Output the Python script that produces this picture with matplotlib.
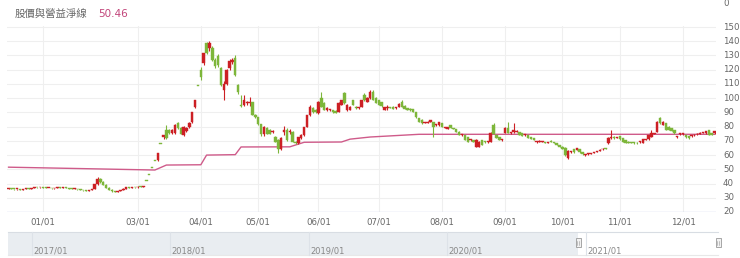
import matplotlib
matplotlib.use("Agg")
import matplotlib.pyplot as plt
import numpy as np
import pandas as pd

plt.rcParams['font.family'] = ['Noto Sans CJK TC', 'DejaVu Sans']

# ---------------- data ----------------
title_text = "股價與營益淨線"
title_value = "50.46"

start_date = "2020-12-16"
end_date = "2021-12-16"
holidays = ["2021-01-01", "2021-02-08", "2021-02-09", "2021-02-10", "2021-02-11",
            "2021-02-12", "2021-02-15", "2021-02-16", "2021-03-01", "2021-04-02",
            "2021-04-05", "2021-06-14", "2021-09-20", "2021-09-21", "2021-10-11"]

opens = [36.2, 36.5, 36.3, 36.0, 36.2, 35.8, 36.0, 36.6, 36.4, 37.0, 37.5, 37.3,
         37.6, 37.2, 36.8, 37.0, 36.6, 36.9, 37.3, 37.1, 37.4, 36.9, 36.5, 36.2,
         36.4, 35.9, 35.6, 35.2, 34.8, 35.3, 36.5, 39.5, 43.4, 41.0, 39.0, 37.0,
         35.8, 34.5, 34.2, 34.8, 35.6, 36.5, 37.6, 37.2, 37.5, 37.3, 37.8, 37.6,
         42.0, 46.2, 50.8, 55.9, 56.5, 67.6, 72.5, 77.6, 77.6, 75.5, 75.5, 82.5,
         79.0, 74.0, 77.0, 79.7, 83.0, 93.5, 108.9, 119.8, 124.5, 138.5, 135.0, 135.5,
         127.0, 129.5, 121.0, 106.0, 110.0, 121.0, 125.5, 128.5, 109.0, 95.0, 95.0, 96.3,
         96.5, 97.0, 88.5, 86.5, 81.5, 74.5, 79.0, 77.5, 76.0, 72.5, 70.5, 64.5,
         76.5, 77.5, 76.0, 76.5, 69.5, 68.5, 72.0, 74.0, 80.0, 88.0, 93.0, 92.0,
         89.5, 100.0, 96.5, 91.8, 91.5, 91.7, 91.0, 90.3, 95.5, 103.6, 91.7, 92.0,
         98.7, 93.8, 93.0, 93.8, 102.0, 97.5, 100.0, 104.0, 100.0, 98.5, 97.0, 91.8,
         93.0, 93.5, 94.0, 93.0, 93.8, 97.0, 94.5, 93.0, 92.4, 92.2, 90.3, 86.0,
         85.0, 82.5, 82.8, 83.2, 83.2, 81.0, 81.0, 82.5, 79.0, 78.3, 81.1, 79.0,
         78.3, 76.5, 74.0, 74.1, 72.7, 70.5, 70.6, 65.7, 65.7, 70.6, 69.5, 69.0,
         69.2, 81.0, 74.1, 72.7, 70.4, 75.5, 79.0, 75.3, 76.0, 76.2, 76.2, 75.5,
         74.0, 74.1, 72.7, 72.0, 69.0, 69.2, 69.2, 69.2, 68.8, 70.0, 69.2, 68.5,
         67.1, 66.0, 65.0, 58.0, 62.0, 64.0, 63.6, 64.0, 62.0, 60.0, 60.6, 61.0,
         61.6, 62.4, 63.2, 64.0, 64.8, 68.5, 72.0, 73.0, 72.0, 73.4, 71.8, 70.6,
         69.4, 69.1, 68.8, 68.6, 69.0, 68.7, 70.8, 71.0, 72.9, 75.0, 76.4, 85.8,
         81.1, 82.3, 80.0, 78.8, 77.6, 72.6, 74.5, 74.7, 74.1, 73.4, 73.2, 73.8,
         74.5, 74.8, 75.6, 75.3, 77.6, 75.3, 75.3]
highs = [36.7, 36.7, 36.5, 36.4, 36.3, 36.2, 36.8, 36.9, 37.2, 37.8, 37.7, 37.9,
         37.8, 37.4, 37.2, 37.1, 37.0, 37.5, 37.5, 37.6, 37.5, 37.0, 36.7, 36.6,
         36.5, 36.0, 35.8, 35.4, 35.5, 36.1, 40.0, 44.5, 44.0, 41.5, 39.4, 37.3,
         36.0, 34.8, 35.0, 35.8, 36.7, 37.8, 37.9, 37.7, 37.6, 38.0, 38.0, 38.4,
         42.0, 46.2, 50.8, 55.9, 61.5, 67.6, 74.3, 81.0, 78.0, 78.0, 82.0, 83.5,
         79.5, 80.5, 79.5, 83.0, 90.2, 99.0, 108.9, 122.0, 131.7, 139.5, 140.0, 137.0,
         128.0, 131.0, 122.0, 112.0, 120.5, 127.5, 128.0, 130.3, 110.0, 102.0, 102.0, 98.0,
         101.0, 97.5, 89.0, 87.0, 82.0, 80.5, 79.5, 78.0, 77.5, 73.5, 71.0, 72.5,
         80.5, 79.0, 78.0, 77.0, 70.0, 73.0, 74.5, 80.0, 88.5, 95.0, 94.0, 92.5,
         98.0, 104.5, 97.0, 93.5, 92.5, 92.0, 91.5, 97.0, 99.0, 104.3, 95.8, 94.5,
         99.0, 94.2, 94.0, 99.0, 103.5, 100.5, 105.5, 105.7, 100.5, 99.0, 97.5, 94.0,
         95.5, 94.0, 94.3, 93.6, 96.5, 98.5, 95.0, 93.3, 92.8, 92.5, 90.6, 86.3,
         85.3, 83.6, 83.7, 85.0, 83.5, 81.8, 83.5, 82.8, 79.8, 80.0, 81.4, 79.3,
         78.6, 76.8, 74.8, 74.4, 73.0, 71.4, 70.9, 71.0, 69.6, 70.9, 69.8, 69.9,
         76.0, 82.5, 74.4, 73.0, 71.2, 79.5, 83.0, 76.2, 82.5, 77.6, 76.5, 75.8,
         74.8, 74.4, 73.0, 72.3, 69.8, 70.3, 69.8, 69.5, 69.3, 70.3, 69.5, 68.8,
         67.4, 66.3, 65.5, 63.6, 62.8, 64.3, 65.3, 64.3, 62.3, 60.7, 61.2, 61.8,
         62.5, 63.2, 64.1, 64.8, 65.1, 72.5, 77.6, 73.3, 72.7, 73.7, 72.1, 70.9,
         69.7, 69.4, 69.1, 68.9, 69.8, 71.3, 71.6, 74.4, 77.6, 75.7, 84.0, 87.0,
         83.8, 82.6, 80.3, 79.1, 77.9, 73.5, 75.6, 75.5, 74.4, 73.7, 73.9, 74.5,
         75.2, 76.0, 76.1, 77.2, 77.9, 75.6, 77.0]
lows = [36.0, 36.1, 35.8, 35.8, 35.6, 35.6, 35.9, 36.2, 36.3, 36.9, 37.0, 37.1,
        37.0, 36.6, 36.6, 36.4, 36.5, 36.8, 36.9, 37.0, 36.8, 36.4, 36.0, 36.1,
        35.8, 35.4, 35.0, 34.6, 34.7, 35.2, 36.3, 39.2, 40.6, 38.9, 36.8, 35.6,
        34.3, 33.8, 34.0, 34.6, 35.4, 36.3, 37.0, 37.0, 37.0, 37.1, 37.3, 37.4,
        42.0, 46.2, 50.8, 55.9, 56.0, 67.6, 71.5, 71.5, 75.0, 75.0, 75.0, 78.5,
        74.5, 73.5, 76.5, 79.0, 82.5, 93.0, 108.9, 113.0, 123.0, 131.0, 133.5, 126.0,
        121.5, 122.0, 108.5, 98.7, 109.0, 120.0, 124.0, 115.5, 103.0, 94.0, 94.5, 95.5,
        94.5, 88.0, 86.0, 81.0, 73.5, 73.5, 74.5, 74.5, 75.5, 69.0, 61.5, 63.5,
        74.0, 70.0, 75.0, 69.0, 68.0, 68.0, 71.5, 73.5, 79.5, 87.5, 89.5, 89.5,
        89.0, 93.5, 91.5, 91.0, 91.0, 89.5, 89.5, 90.0, 95.0, 96.0, 91.0, 91.5,
        95.0, 92.5, 92.5, 93.5, 98.0, 97.0, 99.5, 98.5, 96.5, 95.0, 94.0, 91.5,
        92.0, 92.8, 92.2, 92.5, 93.5, 93.5, 92.2, 91.7, 91.2, 90.0, 86.2, 83.0,
        82.0, 82.2, 82.5, 83.0, 72.7, 80.5, 80.7, 79.4, 78.7, 78.0, 78.7, 78.0,
        75.9, 73.8, 73.7, 70.3, 69.2, 70.2, 68.9, 65.4, 65.4, 66.8, 68.7, 68.7,
        69.0, 74.5, 71.7, 70.5, 70.1, 75.2, 75.2, 75.0, 75.7, 75.9, 73.8, 73.2,
        73.7, 71.7, 71.0, 70.3, 68.7, 68.9, 68.9, 68.2, 68.5, 68.9, 68.2, 66.8,
        65.4, 64.2, 59.5, 57.2, 61.7, 61.7, 63.3, 61.7, 60.2, 59.7, 60.3, 60.7,
        61.3, 62.1, 62.9, 63.7, 64.0, 68.0, 71.5, 71.5, 71.7, 70.7, 69.1, 68.4,
        68.5, 68.5, 68.1, 67.9, 68.7, 68.4, 70.5, 70.7, 72.6, 74.5, 76.0, 82.0,
        80.8, 77.3, 77.3, 76.8, 75.0, 72.3, 74.2, 74.4, 72.2, 71.5, 72.9, 73.5,
        74.2, 74.5, 75.3, 75.0, 73.8, 73.8, 75.0]
closes = [36.5, 36.3, 36.0, 36.2, 35.8, 36.0, 36.6, 36.4, 37.0, 37.5, 37.3, 37.6,
          37.2, 36.8, 37.0, 36.6, 36.9, 37.3, 37.1, 37.4, 36.9, 36.5, 36.2, 36.4,
          35.9, 35.6, 35.2, 34.8, 35.3, 35.9, 39.5, 43.4, 41.0, 39.2, 37.0, 35.8,
          34.5, 34.2, 34.8, 35.6, 36.5, 37.6, 37.2, 37.5, 37.3, 37.8, 37.5, 38.2,
          42.0, 46.2, 50.8, 55.9, 61.5, 67.6, 74.0, 72.0, 75.5, 77.6, 81.1, 79.0,
          75.0, 79.7, 79.0, 82.5, 90.0, 99.0, 108.9, 115.0, 131.5, 132.0, 139.0, 127.0,
          122.5, 123.0, 109.5, 110.0, 119.5, 126.0, 127.0, 116.5, 104.0, 94.5, 98.5, 97.0,
          97.2, 88.5, 86.5, 81.5, 74.5, 79.5, 75.0, 75.0, 77.0, 69.5, 64.0, 72.0,
          77.5, 70.8, 77.0, 69.5, 68.5, 72.5, 74.0, 79.5, 88.0, 94.0, 90.0, 90.0,
          97.0, 94.0, 92.0, 93.0, 92.0, 90.0, 89.8, 96.5, 98.7, 96.6, 95.2, 93.8,
          95.2, 93.0, 93.8, 98.7, 98.5, 100.0, 104.0, 99.0, 96.8, 95.2, 94.5, 93.5,
          93.5, 93.2, 92.5, 93.3, 96.0, 93.8, 92.5, 92.0, 91.5, 90.3, 86.5, 83.2,
          82.3, 83.2, 83.3, 84.5, 79.7, 81.3, 83.2, 79.7, 79.4, 79.7, 79.0, 78.3,
          76.2, 74.1, 74.4, 70.6, 69.5, 71.0, 69.2, 70.6, 69.2, 67.1, 69.0, 69.5,
          75.5, 75.0, 72.0, 70.8, 70.8, 79.0, 75.5, 75.8, 77.5, 77.2, 74.1, 73.5,
          74.4, 72.0, 71.3, 70.6, 69.4, 70.0, 69.5, 68.5, 69.0, 69.2, 68.5, 67.1,
          65.7, 64.5, 60.0, 63.0, 62.5, 62.0, 65.0, 62.0, 60.5, 60.4, 60.9, 61.5,
          62.2, 62.9, 63.8, 64.5, 64.3, 72.0, 72.5, 71.8, 72.4, 71.0, 69.4, 68.7,
          68.8, 68.8, 68.4, 68.2, 69.5, 71.0, 71.3, 74.1, 75.5, 75.3, 83.5, 82.3,
          83.5, 77.6, 77.6, 77.1, 75.3, 73.2, 75.3, 75.2, 72.5, 71.8, 73.6, 74.2,
          74.9, 75.7, 75.8, 76.9, 74.1, 74.1, 76.7]

# net-value line vertices (trading-day index, value)
line_idx = [0, 51, 55, 67, 69, 79, 81, 98, 103, 116, 119, 126, 143, 246]
line_val = [51.5, 49.5, 53.0, 53.2, 60.0, 60.3, 65.7, 65.8, 69.0, 69.2, 71.2, 72.7, 74.6, 74.6]

tick_labels = ["01/01", "03/01", "04/01", "05/01", "06/01", "07/01",
               "08/01", "09/01", "10/01", "11/01", "12/01"]
tick_months = [1, 3, 4, 5, 6, 7, 8, 9, 10, 11, 12]
y_ticks = [20, 30, 40, 50, 60, 70, 80, 90, 100, 110, 120, 130, 140, 150]

nav_labels = ["2017/01", "2018/01", "2019/01", "2020/01", "2021/01"]

# ---------------- calendar ----------------
days = pd.bdate_range(start_date, end_date)
days = days[~days.isin(pd.to_datetime(holidays))]
n = len(closes)
if len(days) != n:
    days = days[:n]
xi = np.arange(n)
tick_pos = []
for m in tick_months:
    sel = np.where((days.year == 2021) & (days.month == m))[0]
    tick_pos.append(sel[0] if len(sel) else 0)

# ---------------- styling ----------------
RED = "#cc1f24"
GREEN = "#7db63a"
LINE = "#cf5b8a"
GRID = "#efefef"
LBL = "#666666"

W, H = 740, 258
fig = plt.figure(figsize=(W / 100, H / 100), dpi=100)

def fx(px):
    return px / W

def fy(py):
    return 1 - py / H

ax_l, ax_r, ax_t, ax_b = 7.1, 716.0, 25.6, 212.0
ax = fig.add_axes([fx(ax_l), fy(ax_b), fx(ax_r - ax_l), (ax_b - ax_t) / H])
ax.set_xlim(-0.5, n - 0.5)
ax.set_ylim(20, 151)
for s in ax.spines.values():
    s.set_visible(False)
ax.axhline(20, color="#ccd6eb", lw=1, zorder=1)
for v in y_ticks[1:]:
    ax.axhline(v, color=GRID, lw=0.8, zorder=0)
for p in tick_pos:
    ax.axvline(p, color=GRID, lw=0.8, zorder=0)
ax.set_xticks([])
ax.set_yticks([])

o = np.array(opens); c = np.array(closes); h = np.array(highs); l = np.array(lows)
up = c > o
cols = np.where(up, RED, GREEN)
body_lo = np.minimum(o, c)
body_h = np.maximum(np.abs(c - o), 0.6)
ax.vlines(xi, l, h, colors=cols, lw=0.8, zorder=3)
ax.bar(xi, body_h, bottom=body_lo, width=0.85, color=cols, edgecolor=cols, lw=0.3, zorder=4)

ax.plot(line_idx, line_val, color=LINE, lw=1.0, zorder=2)

# y labels on right
for v in y_ticks:
    fig.text(fx(723), fy(212 - (v - 20) * 1.423), str(v), fontsize=6.2, color=LBL,
             ha="left", va="center", family=["DejaVu Sans"])
fig.text(fx(723), fy(3), "0", fontsize=6.2, color=LBL, ha="left", va="center",
         family=["DejaVu Sans"])

# x labels
for p, t in zip(tick_pos, tick_labels):
    xp = ax_l + (p + 0.5) * (ax_r - ax_l) / n
    fig.text(fx(xp), fy(222), t, fontsize=6.2, color=LBL, ha="center", va="center",
             family=["DejaVu Sans"])

# title
fig.text(fx(15), fy(14), title_text, fontsize=7.5, color=LBL, ha="left", va="center")
fig.text(fx(98), fy(14), title_value, fontsize=7.5, color="#c2457a", ha="left", va="center",
         family=["DejaVu Sans"])

# navigator
nav = fig.add_axes([0, 0, 1, 1])
nav.set_xlim(0, W)
nav.set_ylim(H, 0)
nav.axis("off")
nav.add_patch(plt.Rectangle((8, 232), 570, 23, facecolor="#e9edf1", edgecolor="none"))
nav.add_patch(plt.Rectangle((578, 232), 140, 23, facecolor="white", edgecolor="none"))
nav.plot([8, 718], [232, 232], color="#d8dde3", lw=0.8)
nav.plot([8, 718], [255, 255], color="#e8e8e8", lw=0.8)
nav_x = [32, 170, 309, 447, 586]
for xv, t in zip(nav_x, nav_labels):
    nav.plot([xv, xv], [232, 255], color="#dde2e8", lw=0.8)
    nav.text(xv + 1.5, 250.5, t, fontsize=6, color="#888888", ha="left", va="center",
             family=["DejaVu Sans"])
for hx in (578, 718):
    nav.add_patch(plt.Rectangle((hx - 2.5, 238), 5, 9, facecolor="#f2f2f2",
                                edgecolor="#999999", lw=0.6))
    nav.plot([hx - 0.8, hx - 0.8], [240.5, 244.5], color="#999999", lw=0.4)
    nav.plot([hx + 0.8, hx + 0.8], [240.5, 244.5], color="#999999", lw=0.4)

fig.savefig("out.png", dpi=100)
